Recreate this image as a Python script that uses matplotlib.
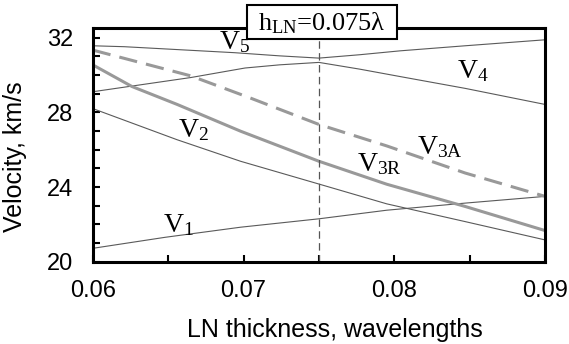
import numpy as np
import matplotlib.pyplot as plt
from matplotlib.patches import Rectangle

# curves (LN thickness in wavelengths, velocity km/s)
x_v1 = [0.06, 0.0648, 0.0698, 0.075, 0.0795, 0.0847, 0.09]
v1 = [20.72, 21.31, 21.85, 22.3, 22.76, 23.14, 23.5]

x_v2 = [0.06, 0.0656, 0.0698, 0.075, 0.0795, 0.0847, 0.09]
v2 = [28.2, 26.53, 25.38, 24.16, 23.1, 22.15, 21.17]

x_v3r = [0.06, 0.0626, 0.0656, 0.0698, 0.075, 0.0795, 0.0847, 0.09]
v3r = [30.54, 29.38, 28.42, 26.99, 25.38, 24.15, 22.96, 21.67]

x_v3a = [0.06, 0.0665, 0.0704, 0.075, 0.0795, 0.0847, 0.09]
v3a = [31.33, 29.95, 28.78, 27.35, 26.2, 24.75, 23.5]

x_v4 = [0.06, 0.0665, 0.0701, 0.0724, 0.075, 0.0777, 0.0804, 0.0847, 0.09]
v4 = [29.1, 29.86, 30.37, 30.54, 30.67, 30.31, 29.91, 29.28, 28.42]

x_v5 = [0.06, 0.0621, 0.0694, 0.0724, 0.075, 0.0777, 0.0804, 0.0847, 0.09]
v5 = [31.56, 31.51, 31.19, 31.02, 30.9, 31.08, 31.29, 31.56, 31.88]

h_ln = 0.075

plt.rcParams['font.family'] = ['Liberation Sans', 'DejaVu Sans']
plt.rcParams['mathtext.fontset'] = 'custom'
plt.rcParams['mathtext.rm'] = 'Liberation Serif'
plt.rcParams['mathtext.it'] = 'Liberation Serif'

fig = plt.figure(figsize=(5.69, 3.44), dpi=100)
ax = fig.add_axes([0.163, 0.239, 0.795, 0.679])

thin = dict(color='#5a5a5a', lw=0.8)
ax.plot(x_v1, v1, **thin)
ax.plot(x_v2, v2, **thin)
ax.plot(x_v4, v4, **thin)
ax.plot(x_v5, v5, **thin)
ax.plot(x_v3r, v3r, color='#999999', lw=2.2, solid_capstyle='butt')
ax.plot(x_v3a, v3a, color='#999999', lw=2.2, dashes=(6, 3))
ax.axvline(h_ln, color='#555555', lw=0.9, dashes=(6, 3.5))

ax.set_xlim(0.06, 0.09)
ax.set_ylim(20, 32.5)
ax.set_xticks([0.06, 0.07, 0.08, 0.09])
ax.set_xticklabels(['0.06', '0.07', '0.08', '0.09'])
ax.set_xticks(np.arange(0.065, 0.09, 0.01), minor=True)
ax.set_yticks([20, 24, 28, 32])
ax.set_yticks(np.arange(20, 33, 1), minor=True)
ax.tick_params(which='both', direction='in', length=5, width=1.5, labelsize=17)
ax.tick_params(axis='x', pad=13)
ax.tick_params(axis='y', pad=14)
for s in ax.spines.values():
    s.set_linewidth(2.2)

ax.set_xlabel('LN thickness, wavelengths', fontsize=18)
ax.set_ylabel('Velocity, km/s', fontsize=18)
ax.xaxis.set_label_coords(0.535, -0.24)
ax.yaxis.set_label_coords(-0.146, 0.45)

serif = dict(family='Liberation Serif', fontsize=20, ha='center', va='center')
ax.text(0.0694, 31.75, 'V$_\\mathrm{5}$', **serif)
ax.text(0.0852, 30.2, 'V$_\\mathrm{4}$', **serif)
ax.text(0.0830, 26.15, 'V$_\\mathrm{3A}$', **serif)
ax.text(0.0790, 25.25, 'V$_\\mathrm{3R}$', **serif)
ax.text(0.0667, 27.05, 'V$_\\mathrm{2}$', **serif)
ax.text(0.0657, 21.95, 'V$_\\mathrm{1}$', **serif)

# thickness marker box sitting on the top spine
fig.add_artist(Rectangle((0.434, 0.8866), 0.2636, 0.0988, transform=fig.transFigure,
                         fc='white', ec='black', lw=1.5, zorder=5))
fig.text(0.5655, 0.934, 'h$_\\mathrm{LN}$=0.075λ', family='Liberation Serif',
         fontsize=19, ha='center', va='center', zorder=6)

fig.savefig('out.png', dpi=100)
